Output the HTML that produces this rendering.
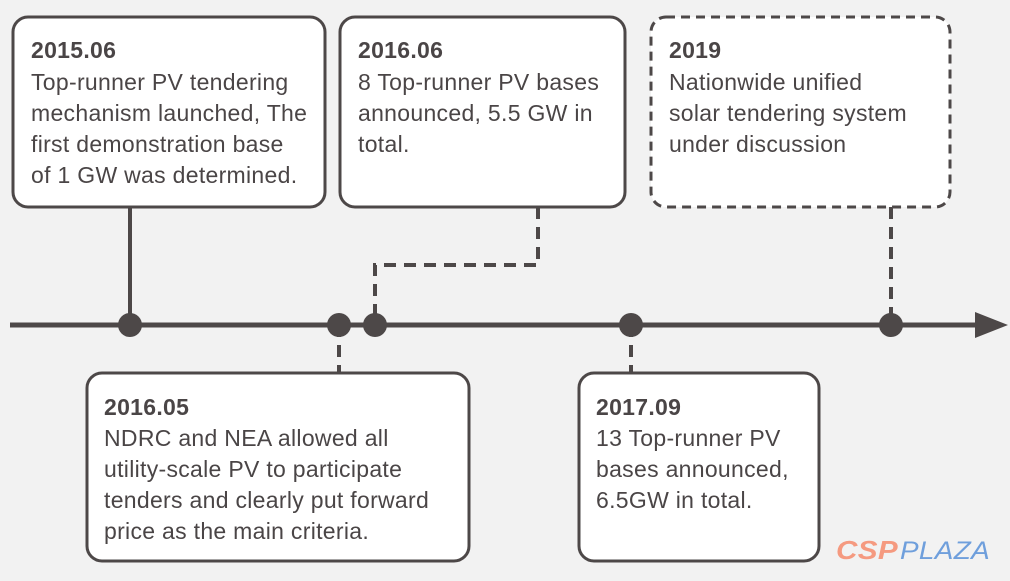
<!DOCTYPE html>
<html><head><meta charset="utf-8"><style>
body{margin:0;background:#f2f2f2;}
svg{display:block}
text{font-family:"Liberation Sans",sans-serif;fill:#4a4546;font-size:23px;letter-spacing:0.3px}
.t{font-weight:bold;font-size:23px}
</style></head><body>
<svg width="1010" height="581" viewBox="0 0 1010 581">
<rect width="1010" height="581" fill="#f2f2f2"/>
<g stroke="#4d4848" stroke-width="4" fill="none">
<line x1="130" y1="207" x2="130" y2="325"/>
<polyline points="538,207 538,265 375,265 375,325" stroke-dasharray="12,8"/>
<line x1="339" y1="325" x2="339" y2="373" stroke-dasharray="12,8"/>
<line x1="631" y1="325" x2="631" y2="373" stroke-dasharray="12,8"/>
<line x1="891" y1="207" x2="891" y2="325" stroke-dasharray="12,8"/>
</g>
<line x1="10" y1="325" x2="980" y2="325" stroke="#4d4848" stroke-width="5"/>
<polygon points="975,312 1008,325 975,338" fill="#4d4848"/>
<g fill="#4d4848">
<circle cx="130" cy="325" r="12"/><circle cx="339" cy="325" r="12"/><circle cx="375" cy="325" r="12"/><circle cx="631" cy="325" r="12"/><circle cx="891" cy="325" r="12"/>
</g>
<g fill="#fff" stroke="#4d4848" stroke-width="3">
<rect x="13" y="17" width="312" height="190" rx="15"/>
<rect x="340" y="17" width="285" height="190" rx="15"/>
<rect x="651" y="17" width="299" height="190" rx="15" stroke-dasharray="9,6"/>
<rect x="87" y="373" width="382" height="188" rx="15"/>
<rect x="579" y="373" width="240" height="188" rx="15"/>
</g>
<text x="31" y="58" class="t">2015.06</text>
<text x="31" y="90">Top-runner PV tendering</text>
<text x="31" y="121">mechanism launched, The</text>
<text x="31" y="152">first demonstration base</text>
<text x="31" y="183">of 1 GW was determined.</text>
<text x="358" y="58" class="t">2016.06</text>
<text x="358" y="90">8 Top-runner PV bases</text>
<text x="358" y="121">announced, 5.5 GW in</text>
<text x="358" y="152">total.</text>
<text x="669" y="58" class="t">2019</text>
<text x="669" y="90">Nationwide unified</text>
<text x="669" y="121">solar tendering system</text>
<text x="669" y="152">under discussion</text>
<text x="104" y="415" class="t">2016.05</text>
<text x="104" y="446">NDRC and NEA allowed all</text>
<text x="104" y="477">utility-scale PV to participate</text>
<text x="104" y="508">tenders and clearly put forward</text>
<text x="104" y="539">price as the main criteria.</text>
<text x="596" y="415" class="t">2017.09</text>
<text x="596" y="446">13 Top-runner PV</text>
<text x="596" y="477">bases announced,</text>
<text x="596" y="508">6.5GW in total.</text>
<text x="836" y="559" textLength="62" lengthAdjust="spacingAndGlyphs" style="font-size:26px;font-weight:bold;font-style:italic;fill:#f59a80">CSP</text>
<text x="900" y="559" textLength="90" lengthAdjust="spacingAndGlyphs" style="font-size:25px;font-style:italic;fill:#6f9fdc">PLAZA</text>
</svg>
</body></html>
